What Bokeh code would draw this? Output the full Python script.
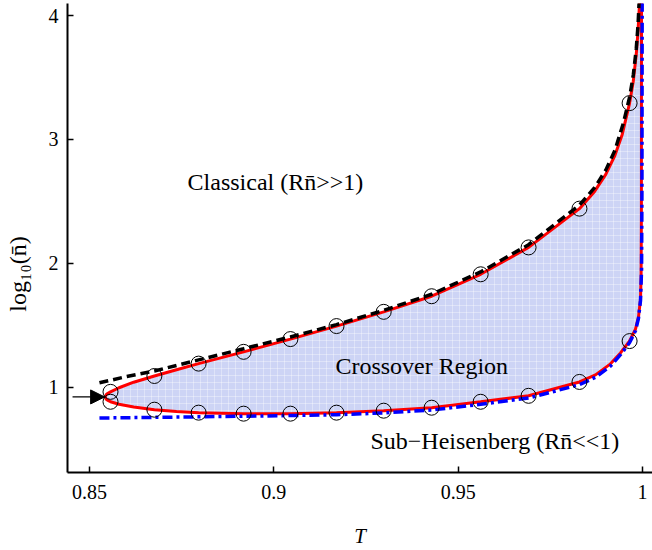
import math
from bokeh.plotting import figure
from bokeh.models import Range1d, FixedTicker, Label, Arrow, NormalHead
from bokeh.embed import file_html
from bokeh.resources import INLINE

# ---------------- data ----------------
# open circles (numerical points)
T_pts = [0.8557, 0.8676, 0.8796, 0.8918, 0.9045, 0.9170, 0.9298, 0.9428, 0.9561, 0.9691, 0.9829, 0.9965]
logn_upper_pts = [0.962, 1.090, 1.190, 1.285, 1.388, 1.493, 1.608, 1.734, 1.911, 2.128, 2.441, 3.293]
logn_lower_pts = [0.882, 0.818, 0.794, 0.786, 0.786, 0.794, 0.810, 0.834, 0.882, 0.930, 1.042, 1.372]

# red boundary of the crossover region: upper branch
T_up = [0.8542, 0.8546, 0.8550, 0.8557, 0.8580, 0.8620, 0.8676, 0.8736, 0.8796, 0.8918, 0.9045,
        0.9170, 0.9298, 0.9428, 0.9561, 0.9691, 0.9829, 0.9870, 0.9900, 0.9925, 0.9945, 0.9965,
        0.9975, 0.9983, 0.9988, 0.9992, 0.9994]
logn_up = [0.920, 0.942, 0.951, 0.962, 0.995, 1.040, 1.090, 1.140, 1.190, 1.285, 1.388,
           1.493, 1.608, 1.734, 1.911, 2.128, 2.441, 2.580, 2.715, 2.870, 3.040, 3.293,
           3.470, 3.685, 3.880, 4.100, 4.250]

# red boundary: lower branch
T_low = [0.8542, 0.8546, 0.8550, 0.8557, 0.8580, 0.8620, 0.8676, 0.8736, 0.8796, 0.8918, 0.9045,
         0.9170, 0.9298, 0.9428, 0.9561, 0.9691, 0.9829, 0.98725, 0.99132, 0.99403, 0.99647,
         0.99810, 0.99891, 0.99946, 0.99962, 0.99970, 0.99973]
logn_low = [0.920, 0.900, 0.893, 0.882, 0.862, 0.840, 0.818, 0.804, 0.794, 0.786, 0.786,
            0.794, 0.810, 0.834, 0.882, 0.930, 1.042, 1.099, 1.188, 1.276, 1.372,
            1.469, 1.565, 1.710, 1.900, 2.400, 4.250]

# classical limit (black dashed)
T_cl = [0.8527, 0.8600, 0.8676, 0.8796, 0.8918, 0.9045, 0.9170, 0.9298, 0.9428, 0.9561, 0.9691,
        0.9829, 0.9870, 0.9900, 0.9925, 0.9948, 0.9965, 0.9975, 0.9983, 0.9988, 0.99915]
logn_cl = [1.035, 1.085, 1.130, 1.220, 1.310, 1.405, 1.505, 1.620, 1.750, 1.930, 2.150,
           2.470, 2.610, 2.750, 2.910, 3.130, 3.340, 3.520, 3.730, 3.930, 4.150]

# sub-Heisenberg limit (blue dash-dot)
T_sh = [0.8527, 0.8700, 0.8918, 0.9170, 0.9298, 0.9428, 0.9561, 0.9691, 0.9829, 0.98725, 0.99132,
        0.99403, 0.99647, 0.99810, 0.99891, 0.99946, 0.99975, 0.99985, 0.99992]
logn_sh = [0.751, 0.757, 0.765, 0.777, 0.792, 0.815, 0.862, 0.912, 1.020, 1.080, 1.170,
           1.262, 1.358, 1.455, 1.555, 1.700, 1.950, 2.600, 4.250]

# arrow pointing at the tip of the region
arrow_T = [0.8454, 0.8541]
arrow_logn = [0.921, 0.921]

x_ticks = [0.85, 0.9, 0.95, 1.0]
x_tick_labels = ["0.85", "0.9", "0.95", "1"]
y_ticks = [1, 2, 3, 4]
y_tick_labels = ["1", "2", "3", "4"]

FONT = "Liberation Serif"

# ---------------- figure ----------------
p = figure(width=652, height=550,
           x_range=Range1d(0.844033, 1.002712), y_range=Range1d(0.311, 4.097),
           output_backend="svg", toolbar_location=None,
           min_border_left=67, min_border_right=0, min_border_top=3, min_border_bottom=76)
p.xgrid.visible = False
p.ygrid.visible = False
p.outline_line_color = None
p.background_fill_color = "white"
p.border_fill_color = "white"

# shaded crossover region
patch_x = T_up + T_low[::-1]
patch_y = logn_up + logn_low[::-1]
p.patch(patch_x, patch_y, fill_color="#cdd4f5", line_color=None,
        hatch_pattern="+", hatch_color="white", hatch_alpha=0.35, hatch_scale=7, hatch_weight=1)

# red boundary
p.line(T_low[::-1] + T_up[1:], logn_low[::-1] + logn_up[1:], line_color="#ff0000", line_width=3)

# limits
p.line(T_sh, logn_sh, line_color="#0000ff", line_width=3.5, line_dash="10 4 3 4")
p.line(T_cl, logn_cl, line_color="black", line_width=3.5, line_dash="9 5")

# circles
p.scatter(T_pts, logn_upper_pts, marker="circle", size=15, fill_color=None, line_color="black", line_width=1)
p.scatter(T_pts, logn_lower_pts, marker="circle", size=15, fill_color=None, line_color="black", line_width=1)

# arrow
p.add_layout(Arrow(end=NormalHead(size=14, fill_color="black", line_color="black"),
                   x_start=arrow_T[0], y_start=arrow_logn[0], x_end=arrow_T[1], y_end=arrow_logn[1],
                   line_color="black", line_width=1.3))

# region labels
for txt, tx, ty in [("Classical (Rn\u0304>>1)", 0.8766, 2.658),
                    ("Crossover Region", 0.9167, 1.171),
                    ("Sub\u2212Heisenberg (Rn\u0304<<1)", 0.9262, 0.568)]:
    p.add_layout(Label(x=tx, y=ty, text=txt, text_font=FONT, text_font_size="24px",
                       text_color="black", text_align="left", text_baseline="middle"))

# axes
for ax in (p.xaxis[0], p.yaxis[0]):
    ax.axis_line_width = 2
    ax.axis_line_color = "black"
    ax.major_tick_in = 6
    ax.major_tick_out = 0
    ax.major_tick_line_width = 1.5
    ax.major_tick_line_color = "black"
    ax.minor_tick_line_color = None
    ax.major_label_text_font = FONT
    ax.major_label_text_font_size = "20px"
    ax.major_label_text_color = "black"

p.xaxis.ticker = FixedTicker(ticks=x_ticks)
p.xaxis.major_label_overrides = dict(zip(x_ticks, x_tick_labels))
p.xaxis.major_label_standoff = 12
p.xaxis.axis_label = "T"
p.xaxis.axis_label_text_font = FONT
p.xaxis.axis_label_text_font_style = "italic"
p.xaxis.axis_label_text_font_size = "21px"
p.xaxis.axis_label_text_color = "black"
p.xaxis.axis_label_standoff = 22

p.yaxis.ticker = FixedTicker(ticks=y_ticks)
p.yaxis.major_label_overrides = dict(zip(y_ticks, y_tick_labels))
p.yaxis.major_label_standoff = 9
# y label: trailing no-break spaces shift the visible text down, as in the reference
p.yaxis.axis_label = "log\u2081\u2080(n\u0304)" + "\u00a0" * 12
p.yaxis.axis_label_text_font = FONT
p.yaxis.axis_label_text_font_style = "normal"
p.yaxis.axis_label_text_font_size = "24px"
p.yaxis.axis_label_text_color = "black"
p.yaxis.axis_label_standoff = 15

open("out.html", "w").write(file_html(p, INLINE))
